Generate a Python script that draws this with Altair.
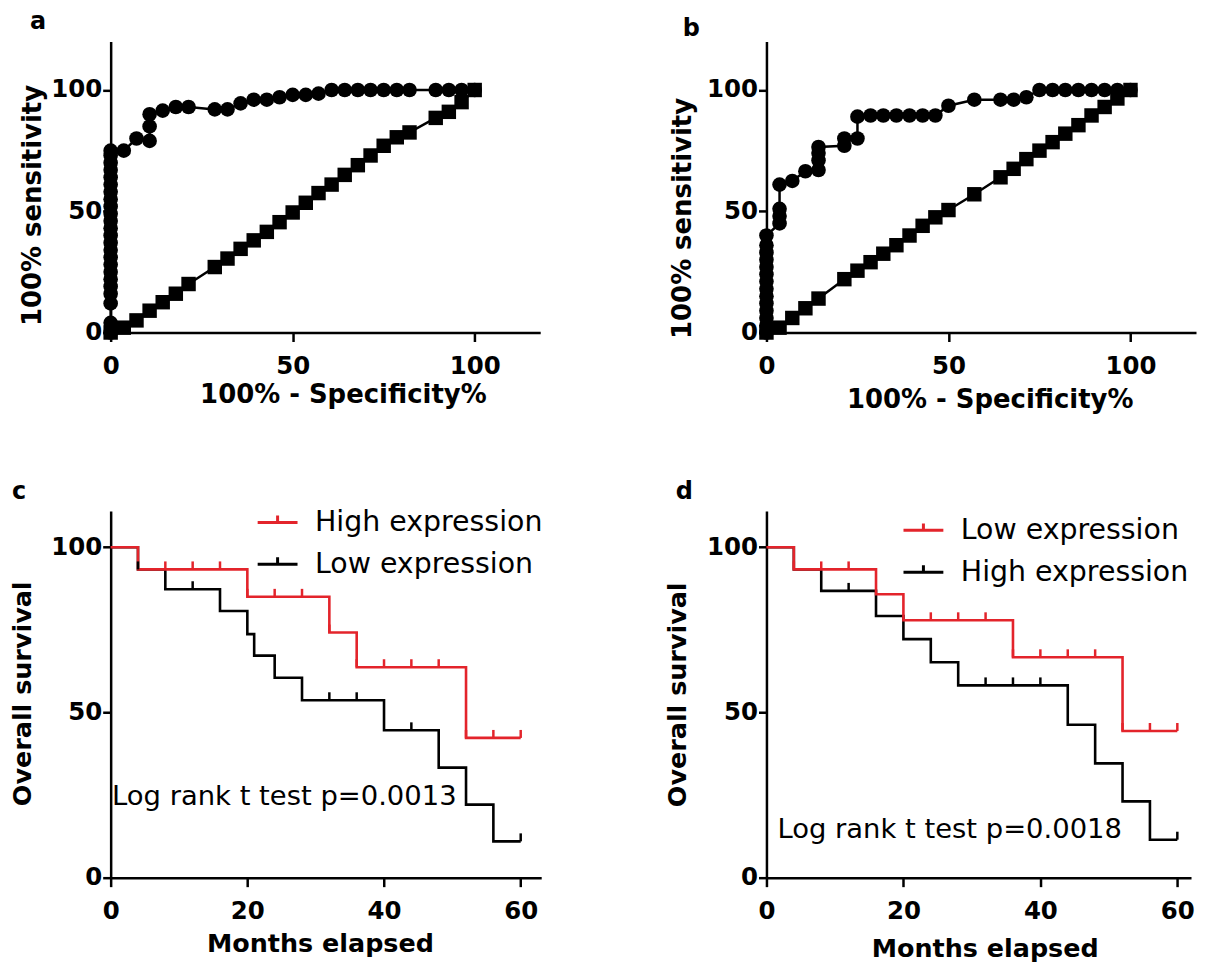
import altair as alt
import pandas as pd

FONT = "DejaVu Sans"
RED = "#e3242b"

# ---------------- Panel a (ROC) ----------------
a_circle_x = [0] * 24 + [3.6, 7.1, 10.7, 10.7, 10.7, 14.3, 17.9, 21.4, 28.6, 32.1, 35.7, 39.3,
                         42.9, 46.4, 50.0, 53.6, 57.1, 60.7, 64.3, 67.9, 71.4, 75.0, 78.6, 82.1,
                         89.3, 92.9, 96.4, 100.0]
a_circle_y = [0, 4, 12, 16, 19, 22, 25, 28, 31, 34, 37, 40, 43, 46, 49, 52, 55, 58, 61, 64, 67, 70, 73, 75,
              75, 80, 79, 85, 90, 91.5, 93, 93, 92, 92, 94.5, 96, 96, 97, 98, 98, 98.5, 100,
              100, 100, 100, 100, 100, 100, 100, 100, 100, 100]
a_square_x = [0, 3.6, 7.1, 10.7, 14.3, 17.9, 21.4, 28.6, 32.1, 35.7, 39.3, 42.9, 46.4, 50.0,
              53.6, 57.1, 60.7, 64.3, 67.9, 71.4, 75.0, 78.6, 82.1, 89.3, 92.9, 96.4, 100.0]
a_square_y = [0, 2, 5, 9, 12.5, 16, 20, 27, 30.5, 34.5, 38, 41.5, 45.5, 49.5,
              53.5, 57.5, 61, 65, 69, 73, 77, 80.5, 82.5, 88.5, 91, 95, 100]

# ---------------- Panel b (ROC) ----------------
b_circle_x = [0] * 14 + [3.6, 3.6, 3.6, 3.6, 7.1, 10.7, 14.3, 14.3, 14.3, 14.3, 21.4, 21.4, 25.0, 25.0,
                         28.6, 32.1, 35.7, 39.3, 42.9, 46.4, 50.0, 57.1, 64.3, 67.9, 71.4, 75.0,
                         78.6, 82.1, 85.7, 89.3, 92.9, 96.4, 100.0]
b_circle_y = [0, 3, 6, 9, 12, 15, 18, 21, 24, 27, 30, 33, 36, 40,
              45, 48, 51, 61, 62.5, 66.5, 67, 71, 74, 76.5, 77, 80, 80, 89,
              89.5, 89.5, 89.5, 89.5, 89.5, 89.5, 93.5, 96, 96, 96, 97, 100,
              100, 100, 100, 100, 100, 100, 100]
b_square_x = [0, 3.6, 7.1, 10.7, 14.3, 21.4, 25.0, 28.6, 32.1, 35.7, 39.3, 42.9, 46.4, 50.0,
              57.1, 64.3, 67.9, 71.4, 75.0, 78.6, 82.1, 85.7, 89.3, 92.9, 96.4, 100.0]
b_square_y = [0, 2, 6, 10, 14, 22, 25.5, 29, 32.5, 36, 40, 44, 47.5, 50.5,
              57, 64, 67.5, 71.5, 75, 78.5, 82, 85.5, 89.5, 93, 96.5, 100]

# ---------------- Panel c (Kaplan-Meier) ----------------
c_red_name, c_black_name = "High expression", "Low expression"
c_red_t = [0, 4, 20, 32, 36, 52, 60]
c_red_s = [100, 93.3, 85.0, 74.2, 63.7, 42.3, 42.3]
c_black_t = [0, 4, 8, 16, 20, 21, 24, 28, 40, 48, 52, 56, 60]
c_black_s = [100, 93.3, 87.3, 80.7, 73.7, 67.2, 60.5, 53.7, 44.6, 33.3, 22.1, 11.0, 11.0]
c_red_cens_t = [8, 12, 16, 20, 24, 28, 32, 36, 40, 44, 48, 52, 56, 60]
c_red_cens_s = [93.3, 93.3, 93.3, 85.0, 85.0, 85.0, 74.2, 63.7, 63.7, 63.7, 63.7, 42.3, 42.3, 42.3]
c_black_cens_t = [4, 12, 32, 36, 44, 60]
c_black_cens_s = [93.3, 87.3, 53.7, 53.7, 44.6, 11.0]
c_note = "Log rank t test p=0.0013"

# ---------------- Panel d (Kaplan-Meier) ----------------
d_red_name, d_black_name = "Low expression", "High expression"
d_red_t = [0, 4, 16, 20, 36, 52, 60]
d_red_s = [100, 93.3, 85.8, 77.9, 66.7, 44.4, 44.4]
d_black_t = [0, 4, 8, 16, 20, 24, 28, 44, 48, 52, 56, 60]
d_black_s = [100, 93.3, 86.8, 79.2, 72.2, 65.2, 58.2, 46.3, 34.6, 23.1, 11.5, 11.5]
d_red_cens_t = [4, 8, 12, 24, 28, 32, 36, 40, 44, 48, 52, 56, 60]
d_red_cens_s = [93.3, 93.3, 93.3, 77.9, 77.9, 77.9, 66.7, 66.7, 66.7, 66.7, 44.4, 44.4, 44.4]
d_black_cens_t = [12, 32, 36, 40, 60]
d_black_cens_s = [86.8, 58.2, 58.2, 58.2, 11.5]
d_note = "Log rank t test p=0.0018"

roc_ticks = [0, 50, 100]
km_xticks = [0, 20, 40, 60]
km_yticks = [0, 50, 100]


def panel_title(letter, dx, offset):
    return alt.TitleParams(text=letter, anchor="start", frame="group", dx=dx, offset=offset,
                           fontSize=24, fontWeight="bold", font=FONT, color="black",
                           baseline="alphabetic")


def roc_panel(tag, cx, cy, sx, sy, xmax, w, h, xt, yt, letter, ldx, loff):
    xf, yf, of = f"{tag}x", f"{tag}y", f"{tag}i"
    circ = pd.DataFrame({xf: cx, yf: cy, of: list(range(len(cx)))})
    sq = pd.DataFrame({xf: sx, yf: sy, of: list(range(len(sx)))})
    xaxis = alt.Axis(values=roc_ticks, title="100% - Specificity%", titleX=xt[0], titleY=xt[1],
                     titleAlign="center", titleBaseline="alphabetic", titleAngle=0,
                     labelPadding=13, tickSize=9, labelFlush=False, titleFontSize=26)
    yaxis = alt.Axis(values=roc_ticks, title="100% sensitivity", titleX=yt[0], titleY=yt[1],
                     titleAlign="center", titleBaseline="alphabetic", titleAngle=270,
                     labelPadding=1, tickSize=8, labelFlush=False, titleFontSize=26)
    xs = alt.Scale(domain=[0, xmax], nice=False, zero=False)
    ys = alt.Scale(domain=[0, 120], nice=False, zero=False)

    def enc(ch):
        return ch.encode(x=alt.X(f"{xf}:Q", scale=xs, axis=xaxis),
                         y=alt.Y(f"{yf}:Q", scale=ys, axis=yaxis),
                         order=alt.Order(f"{of}:Q"))

    sq_line = enc(alt.Chart(sq).mark_line(color="black", strokeWidth=2.5))
    sq_pts = enc(alt.Chart(sq).mark_point(shape="square", filled=True, size=210, color="black",
                                          opacity=1, strokeWidth=0))
    c_line = enc(alt.Chart(circ).mark_line(color="black", strokeWidth=2.5))
    c_pts = enc(alt.Chart(circ).mark_point(shape="circle", filled=True, size=215, color="black",
                                           opacity=1, strokeWidth=0))
    return alt.layer(sq_line, sq_pts, c_line, c_pts).properties(
        width=w, height=h, title=panel_title(letter, ldx, loff))


def km_panel(tag, red_name, black_name, red_t, red_s, black_t, black_s,
             red_ct, red_cs, black_ct, black_cs, note, note_xy, xmax, w, h,
             xt, yt, leg_xy, leg_off, letter, ldx, loff):
    tf, sf, gf = f"{tag}t", f"{tag}s", f"{tag}g"
    red_df = pd.DataFrame({tf: red_t, sf: red_s, gf: red_name})
    black_df = pd.DataFrame({tf: black_t, sf: black_s, gf: black_name})
    red_c = pd.DataFrame({tf: red_ct, sf: red_cs})
    black_c = pd.DataFrame({tf: black_ct, sf: black_cs})
    note_df = pd.DataFrame({tf: [note_xy[0]], sf: [note_xy[1]], "txt": [note]})

    xaxis = alt.Axis(values=km_xticks, title="Months elapsed", titleX=xt[0], titleY=xt[1],
                     titleAlign="center", titleBaseline="alphabetic", titleAngle=0,
                     labelPadding=13, tickSize=9, labelFlush=False, titleFontSize=25.5)
    yaxis = alt.Axis(values=km_yticks, title="Overall survival", titleX=yt[0], titleY=yt[1],
                     titleAlign="center", titleBaseline="alphabetic", titleAngle=270,
                     labelPadding=1, tickSize=8, labelFlush=False, titleFontSize=25.5)
    xs = alt.Scale(domain=[0, xmax], nice=False, zero=False)
    ys = alt.Scale(domain=[0, 111], nice=False, zero=False)
    X = alt.X(f"{tf}:Q", scale=xs, axis=xaxis)
    Y = alt.Y(f"{sf}:Q", scale=ys, axis=yaxis)

    legend = alt.Legend(title=None, orient="none", legendX=leg_xy[0], legendY=leg_xy[1],
                        symbolType="M-1,0H1M0,0V-0.35", symbolSize=1600, symbolStrokeWidth=3,
                        labelFont=FONT, labelFontSize=28.5, labelFontWeight="normal",
                        labelColor="black", labelOffset=leg_off, rowPadding=6, padding=0,
                        labelLimit=400)
    color = alt.Color(f"{gf}:N", scale=alt.Scale(domain=[red_name, black_name], range=[RED, "black"]),
                      legend=legend)

    black_line = alt.Chart(black_df).mark_line(interpolate="step-after", strokeWidth=2.6).encode(
        x=X, y=Y, color=color)
    red_line = alt.Chart(red_df).mark_line(interpolate="step-after", strokeWidth=2.6).encode(
        x=X, y=Y, color=color)
    black_ticks = alt.Chart(black_c).mark_point(shape="M0,0V-1", size=256, strokeWidth=2.5,
                                                filled=False, opacity=1, color="black").encode(x=X, y=Y)
    red_ticks = alt.Chart(red_c).mark_point(shape="M0,0V-1", size=256, strokeWidth=2.5,
                                            filled=False, opacity=1, color=RED).encode(x=X, y=Y)
    note_txt = alt.Chart(note_df).mark_text(align="left", baseline="alphabetic", font=FONT,
                                            fontSize=27.5, color="black").encode(
        x=X, y=Y, text="txt:N")
    return alt.layer(black_line, red_line, black_ticks, red_ticks, note_txt).properties(
        width=w, height=h, title=panel_title(letter, ldx, loff))


pa = roc_panel("a", a_circle_x, a_circle_y, a_square_x, a_square_y, 118, 431, 292,
               (233, 70), (-70, 164), "a", -81, -11)
pb = roc_panel("b", b_circle_x, b_circle_y, b_square_x, b_square_y, 118, 431, 292,
               (224, 75), (-76, 177), "b", -84, -18)
pc = km_panel("c", c_red_name, c_black_name, c_red_t, c_red_s, c_black_t, c_black_s,
              c_red_cens_t, c_red_cens_s, c_black_cens_t, c_black_cens_s, c_note, (0.2, 22),
              63, 432, 368, (210, 74), (-80, 183), (146, -10), 16, "c", -99, -22)
pd_ = km_panel("d", d_red_name, d_black_name, d_red_t, d_red_s, d_black_t, d_black_s,
               d_red_cens_t, d_red_cens_s, d_black_cens_t, d_black_cens_s, d_note, (1.6, 12),
               62, 426, 368, (219, 79), (-81, 184), (136, -2), 16, "d", -91, -14)

chart = alt.concat(pa, pb, pc, pd_, columns=2, spacing={"row": 179, "column": 226},
                   bounds="flush").resolve_scale(color="independent").resolve_legend(
    color="independent").properties(
    padding={"left": 3, "top": 0, "right": 2, "bottom": 2}
).configure_view(stroke=None).configure_axis(
    domainColor="black", domainWidth=2.5, tickColor="black", tickWidth=2.5,
    labelFont=FONT, labelFontSize=24.5, labelFontWeight="bold", labelColor="black",
    titleFont=FONT, titleFontWeight="bold", titleColor="black", grid=False
)

chart.save("out.html", embed_options={"renderer": "svg", "actions": False})
